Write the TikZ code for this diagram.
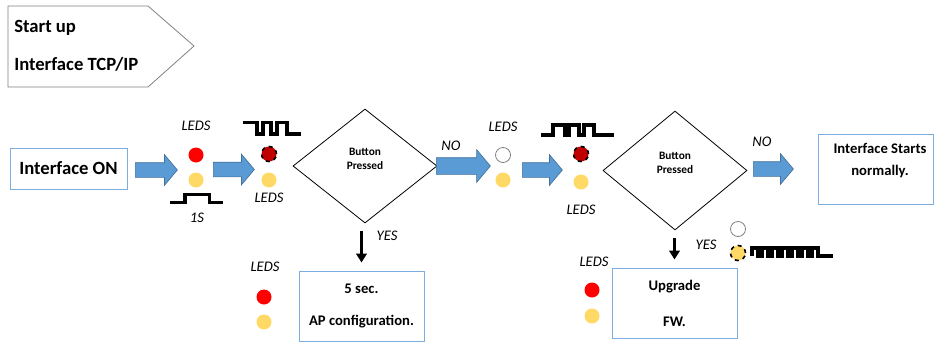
\documentclass[tikz,border=0pt]{standalone}
\usepackage{fontspec}
\setmainfont{Carlito}
\usetikzlibrary{shapes.geometric, shapes.arrows, arrows.meta}

\definecolor{arrowblue}{RGB}{91,155,213}
\definecolor{arrowedge}{RGB}{65,113,156}
\definecolor{boxblue}{RGB}{125,172,222}
\definecolor{ledyellow}{RGB}{255,217,102}
\definecolor{leddark}{RGB}{192,0,0}

\begin{document}
\begin{tikzpicture}[x = 0.75pt, y = -0.75pt]
\tikzstyle{BlockArrow}=[single arrow, draw = arrowedge, fill = arrowblue,
                        line width = 0.5pt, inner sep = 5.25pt,
                        single arrow head extend = 6pt,
                        single arrow tip angle = 100, anchor = tail]
\tikzstyle{DownArrow}=[line width = 2.25pt, -{Triangle[width = 8pt, length = 6.75pt]},
                       shorten < = 6pt, shorten > = 6pt]
\tikzstyle{InfoBox}=[draw = boxblue, line width = 0.75pt, inner sep = 0pt,
                     align = center, font = \fontsize{11}{13}\selectfont\bfseries]
\tikzstyle{Decision}=[diamond, draw, line width = 0.6pt, inner sep = 0pt]
\tikzstyle{BtnText}=[align = center, inner sep = 0pt,
                     font = \fontsize{8.5}{11}\selectfont\bfseries]
\tikzstyle{Note}=[inner sep = 0pt, font = \fontsize{11}{13}\selectfont\itshape]
\tikzstyle{Title}=[inner sep = 0pt, anchor = base west,
                   font = \fontsize{14}{17}\selectfont\bfseries]
\tikzstyle{Led}=[circle, minimum size = 11.25pt, inner sep = 0pt]
\tikzstyle{RedLed}=[Led, fill = red]
\tikzstyle{YellowLed}=[Led, fill = ledyellow]
\tikzstyle{WhiteLed}=[Led, draw = gray, fill = white, line width = 0.6pt]
\tikzstyle{BlinkRed}=[Led, fill = leddark, draw = black, dashed, line width = 1.2pt]
\tikzstyle{BlinkYellow}=[Led, fill = ledyellow, draw = black, dashed, line width = 1.2pt]
\tikzstyle{Pulse}=[line width = 2.5pt]

\useasboundingbox (0,0) rectangle (934,343);

\draw[gray, line width = 0.6pt] (8,6) -- (148,6) -- (194,46) -- (148,87) -- (8,87) -- cycle;
\node[Title] (start) at (14,32) {Start up};
\node[Title] (tcpip) at (14,70) {Interface TCP/IP};

\node[InfoBox, minimum width = 87.75pt, minimum height = 30.75pt,
      font = \fontsize{14}{17}\selectfont\bfseries] (on) at (68.5,168.5) {Interface ON};
\node[BlockArrow, minimum height = 31.5pt] (a1) at (135,170) {};

\node[Note] (leds1) at (196,126) {LEDS};
\node[RedLed] (red1) at (196,155) {};
\node[YellowLed] (yel1) at (196,180) {};
\draw[Pulse] (170,202.5) -| (185,194.5) -| (209.5,202.5) -- (223,202.5);
\node[Note] (onesec) at (197,218) {1S};

\node[BlockArrow, minimum height = 30.75pt] (a2) at (213,169.5) {};

\draw[Pulse] (243,122.5) -| (257,134) -| (263,122.5) -| (271,134) -| (277,122.5)
             -| (287,134) -- (301,134);
\node[BlinkRed] (red2) at (269,154) {};
\node[YellowLed] (yel2) at (269,180) {};
\node[Note] (leds2) at (269,198) {LEDS};

\node[Decision, minimum width = 108pt, minimum height = 85.5pt] (d1) at (365,166) {};
\node[BtnText] (d1txt) at (365,159) {Button\\Pressed};

\node[Note] (no1) at (451,146) {NO};
\node[BlockArrow, minimum height = 40.5pt, inner sep = 6pt] (a3) at (436,166) {};

\node[Note] (leds3) at (503,127) {LEDS};
\node[WhiteLed] (wht3) at (503,155) {};
\node[YellowLed] (yel3) at (503,180) {};

\node[BlockArrow, minimum height = 30pt] (a4) at (522,170) {};

\draw[Pulse] (541,135) -| (553,125) -| (565,135) -| (569,125) -| (579,135)
             -| (584,125) -| (594,135) -- (614,135);
\node[BlinkRed] (red4) at (581,154) {};
\node[YellowLed] (yel4) at (581,182) {};
\node[Note] (leds4) at (581,210) {LEDS};

\node[Decision, minimum width = 108pt, minimum height = 89.25pt] (d2) at (675,170.5) {};
\node[BtnText] (d2txt) at (675,163) {Button\\Pressed};

\node[Note] (no2) at (762,142) {NO};
\node[BlockArrow, minimum height = 30pt] (a5) at (753,169) {};

\node[InfoBox, minimum width = 86.25pt, minimum height = 52.5pt] (normal) at (875.5,169) {};
\node[BtnText, font = \fontsize{11}{13}\selectfont\bfseries] (normaltxt) at (880,161)
     {Interface Starts\\[3.5pt]normally.};

\node[InfoBox, minimum width = 93.75pt, minimum height = 52.5pt] (ap) at (361.5,306)
     {5 sec.\\[11pt]AP configuration.};
\draw[DownArrow] (ap.north |- d1.south) -- (ap.north);
\node[Note] (yes1) at (387,236) {YES};
\node[Note] (leds5) at (265,267) {LEDS};
\node[RedLed] (red5) at (264,297) {};
\node[YellowLed] (yel5) at (264,322) {};

\node[InfoBox, minimum width = 93.75pt, minimum height = 52.5pt] (fw) at (674.5,303)
     {Upgrade\\[14pt]FW.};
\draw[DownArrow] (fw.north |- d2.south) -- (fw.north);
\node[Note] (yes2) at (706,245) {YES};
\node[Note] (leds6) at (594,262) {LEDS};
\node[RedLed] (red6) at (592,290) {};
\node[YellowLed] (yel6) at (592,316) {};

\node[WhiteLed] (wht7) at (738,229) {};
\node[BlinkYellow] (yel7) at (738,253) {};
\draw[Pulse] (752,256) |- (758,248) |- (762,256) |- (768,248) |- (772,256) |- (778,248)
             |- (782,256) |- (788,248) |- (792,256) |- (798,248) |- (802,256) |- (808,248)
             |- (812,256) |- (818,248) |- (833,256);
\end{tikzpicture}
\end{document}
